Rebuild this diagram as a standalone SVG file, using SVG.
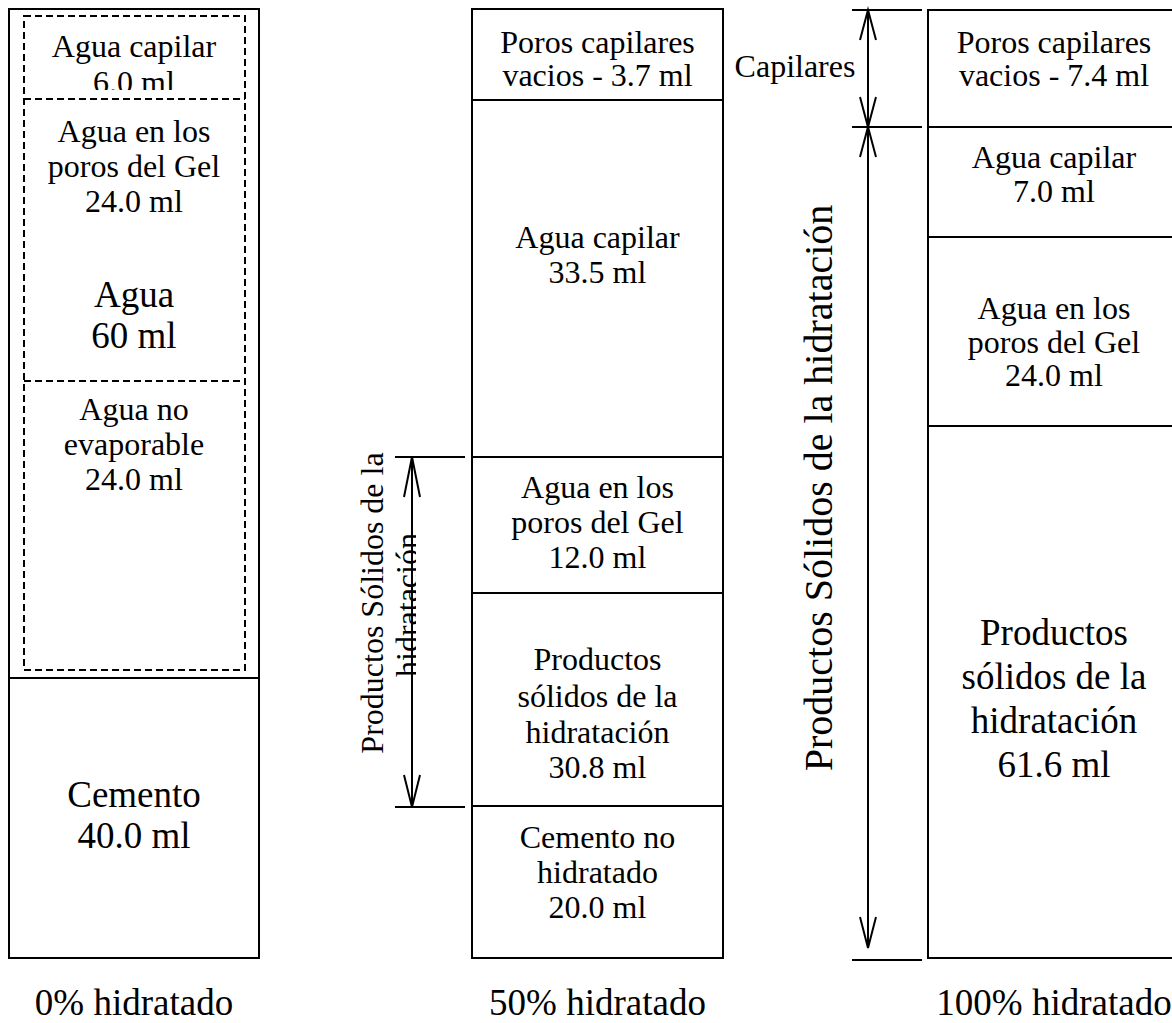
<svg xmlns="http://www.w3.org/2000/svg" width="1172" height="1023" viewBox="0 0 1172 1023">
<style>
.box{fill:#fff;stroke:#000;stroke-width:2}
.dash{fill:none;stroke:#000;stroke-width:2;stroke-dasharray:7 4}
.ln{stroke:#000;stroke-width:2;fill:none}
text{font-family:"Liberation Serif","Times New Roman",serif;fill:#000;text-anchor:middle}
.s{font-size:32px}
.b{font-size:37px}
.r{font-size:40px}
</style>
<defs>
<clipPath id="clipTop"><rect x="24" y="16" width="221" height="74"/></clipPath>
<clipPath id="clipHid"><rect x="380" y="440" width="36" height="380"/></clipPath>
</defs>
<rect width="1172" height="1023" fill="#fff"/>

<!-- Column 0% -->
<g id="col0">
<rect class="box" x="9" y="9" width="250" height="949"/>
</g>
<g id="agua0">
<rect class="dash" x="24" y="16" width="221" height="654"/>
<text class="b" x="134" y="307">Agua</text>
<text class="b" x="134" y="348">60 ml</text>
</g>
<g id="aguaCapilar0">
<g clip-path="url(#clipTop)">
<text class="s" x="134" y="57">Agua capilar</text>
<text class="s" x="134" y="93">6.0 ml</text>
</g>
<line class="dash" x1="24" y1="99" x2="245" y2="99"/>
</g>
<g id="aguaGel0">
<text class="s" x="134" y="142">Agua en los</text>
<text class="s" x="134" y="177">poros del Gel</text>
<text class="s" x="134" y="212">24.0 ml</text>
<line class="dash" x1="24" y1="381" x2="245" y2="381"/>
</g>
<g id="aguaNoEvap0">
<text class="s" x="134" y="420">Agua no</text>
<text class="s" x="134" y="455">evaporable</text>
<text class="s" x="134" y="490">24.0 ml</text>
</g>
<g id="cemento0">
<line class="ln" x1="9" y1="678" x2="259" y2="678"/>
<text class="b" x="134" y="807">Cemento</text>
<text class="b" x="134" y="848">40.0 ml</text>
</g>
<g id="label0"><text class="b" x="134" y="1015">0% hidratado</text></g>

<!-- Column 50% -->
<g id="col50">
<rect class="box" x="472" y="9" width="251" height="949"/>
</g>
<g id="poros50">
<text class="s" x="597.5" y="53">Poros capilares</text>
<text class="s" x="597.5" y="86">vacios - 3.7 ml</text>
<line class="ln" x1="472" y1="100" x2="723" y2="100"/>
</g>
<g id="aguaCapilar50">
<text class="s" x="597.5" y="248">Agua capilar</text>
<text class="s" x="597.5" y="283">33.5 ml</text>
<line class="ln" x1="472" y1="457" x2="723" y2="457"/>
</g>
<g id="aguaGel50">
<text class="s" x="597.5" y="498">Agua en los</text>
<text class="s" x="597.5" y="533">poros del Gel</text>
<text class="s" x="597.5" y="568">12.0 ml</text>
<line class="ln" x1="472" y1="593" x2="723" y2="593"/>
</g>
<g id="productos50">
<text class="s" x="597.5" y="670">Productos</text>
<text class="s" x="597.5" y="707">sólidos de la</text>
<text class="s" x="597.5" y="743">hidratación</text>
<text class="s" x="597.5" y="778">30.8 ml</text>
<line class="ln" x1="472" y1="806" x2="723" y2="806"/>
</g>
<g id="cemento50">
<text class="s" x="597.5" y="848">Cemento no</text>
<text class="s" x="597.5" y="883">hidratado</text>
<text class="s" x="597.5" y="918">20.0 ml</text>
</g>
<g id="label50"><text class="b" x="597.5" y="1015">50% hidratado</text></g>

<!-- Column 100% -->
<g id="col100">
<rect class="box" x="928" y="10" width="260" height="948"/>
</g>
<g id="poros100">
<text class="s" x="1054" y="53">Poros capilares</text>
<text class="s" x="1054" y="86">vacios - 7.4 ml</text>
<line class="ln" x1="928" y1="127" x2="1172" y2="127"/>
</g>
<g id="aguaCapilar100">
<text class="s" x="1054" y="168">Agua capilar</text>
<text class="s" x="1054" y="202">7.0 ml</text>
<line class="ln" x1="928" y1="237" x2="1172" y2="237"/>
</g>
<g id="aguaGel100">
<text class="s" x="1054" y="319">Agua en los</text>
<text class="s" x="1054" y="353">poros del Gel</text>
<text class="s" x="1054" y="386">24.0 ml</text>
<line class="ln" x1="928" y1="426" x2="1172" y2="426"/>
</g>
<g id="productos100">
<text class="b" x="1054" y="645">Productos</text>
<text class="b" x="1054" y="689">sólidos de la</text>
<text class="b" x="1054" y="733">hidratación</text>
<text class="b" x="1054" y="777">61.6 ml</text>
</g>
<g id="label100"><text class="b" x="1054" y="1015">100% hidratado</text></g>

<!-- Dimension annotations -->
<g id="dimMid">
<text class="s" transform="translate(383,603) rotate(-90)">Productos Sólidos de la</text>
<g clip-path="url(#clipHid)"><text class="s" transform="translate(418,605) rotate(-90)">hidratación</text></g>
</g>
<g id="dimCapilares">
<text class="s" x="795" y="77">Capilares</text>
</g>
<g id="dimRight">
<text class="r" transform="translate(832,488) rotate(-90)">Productos Sólidos de la hidratación</text>
</g>

<g id="connectors">
<line class="ln" x1="395" y1="457" x2="465" y2="457"/>
<line class="ln" x1="395" y1="807" x2="465" y2="807"/>
<line class="ln" x1="412" y1="457" x2="412" y2="807"/>
<polyline class="ln" points="404,497 412,457 420,497"/>
<polyline class="ln" points="404,775 412,807 420,775"/>

<line class="ln" x1="852" y1="10" x2="922" y2="10"/>
<line class="ln" x1="852" y1="127" x2="922" y2="127"/>
<line class="ln" x1="852" y1="960" x2="922" y2="960"/>
<line class="ln" x1="868" y1="10" x2="868" y2="127"/>
<polyline class="ln" points="860,40 868,10 876,40"/>
<polyline class="ln" points="860,97 868,127 876,97"/>
<line class="ln" x1="868" y1="127" x2="868" y2="948"/>
<polyline class="ln" points="860,157 868,127 876,157"/>
<polyline class="ln" points="860,917 868,948 876,917"/>
</g>
</svg>
